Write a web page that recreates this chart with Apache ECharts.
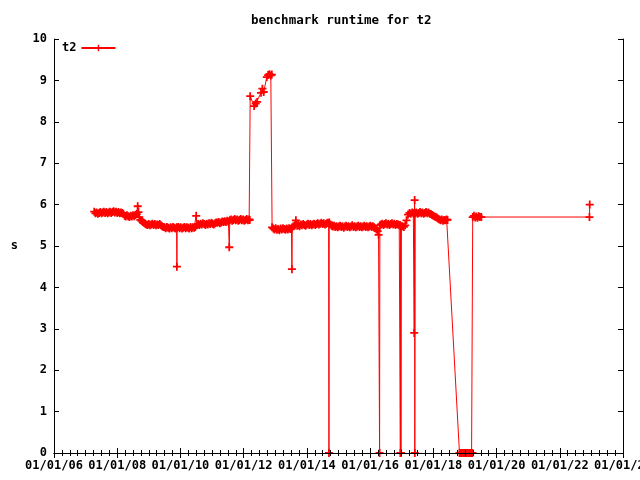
<!DOCTYPE html>
<html>
<head>
<meta charset="utf-8">
<script src="https://cdn.jsdelivr.net/npm/echarts@6/dist/echarts.min.js"></script>
<style>html,body{margin:0;padding:0;background:#fff}#c{width:640px;height:480px}</style>
</head>
<body>
<div id="c"></div>
<script>
// ---- data ----
const seriesName = 't2';
const chartTitle = 'benchmark runtime for t2';
const yName = 's';
const xStart = '2006-01-01';
const xTickCount = 9;          // 01/01/06 ... 01/01/24, every 2 years
const yMin = 0, yMax = 10, yStep = 1;

const runDates = [
  '2007-04-11','2007-04-25','2007-05-09','2007-05-23','2007-06-06','2007-06-20','2007-07-04','2007-07-18','2007-08-01','2007-08-15','2007-08-29','2007-09-12','2007-09-26','2007-10-10','2007-10-24','2007-11-07','2007-11-21','2007-12-05','2007-12-19','2008-01-02','2008-01-16','2008-01-30','2008-02-13','2008-02-27','2008-03-12',
  '2008-03-26','2008-04-09','2008-04-23','2008-05-07','2008-05-21','2008-06-04','2008-06-18','2008-07-02','2008-07-16','2008-07-30','2008-08-13',
  '2008-08-25',
  '2008-09-03','2008-09-12','2008-09-24','2008-10-08','2008-10-22','2008-11-05','2008-11-19','2008-12-03',
  '2008-12-17','2008-12-31','2009-01-14','2009-01-28','2009-02-11','2009-02-25','2009-03-11','2009-03-25','2009-04-08','2009-04-22','2009-05-06','2009-05-20','2009-06-03','2009-06-17',
  '2009-07-01','2009-07-15','2009-07-29','2009-08-12','2009-08-26','2009-09-09','2009-09-23','2009-10-07','2009-10-21','2009-11-04','2009-11-18','2009-11-21','2009-11-24','2009-12-08','2009-12-22','2010-01-05','2010-01-19','2010-02-02','2010-02-16','2010-03-02','2010-03-16','2010-03-30','2010-04-13','2010-04-27','2010-05-11','2010-05-25','2010-06-08','2010-06-22','2010-07-02',
  '2010-07-10','2010-07-24','2010-08-07','2010-08-21','2010-09-04','2010-09-18','2010-10-02','2010-10-16','2010-10-30','2010-11-13','2010-11-27','2010-12-11','2010-12-25','2011-01-08','2011-01-22','2011-02-05','2011-02-19','2011-03-05','2011-03-19','2011-04-02','2011-04-16','2011-04-30','2011-05-14','2011-05-28','2011-06-11','2011-06-25','2011-07-09','2011-07-19',
  '2011-07-25','2011-08-08','2011-08-22','2011-09-05','2011-09-19','2011-10-03','2011-10-17','2011-10-31','2011-11-14','2011-11-28','2011-12-12','2011-12-26','2012-01-09','2012-01-23','2012-02-06','2012-02-20','2012-03-05','2012-03-12',
  '2012-03-17','2012-05-01','2012-05-20','2012-06-05','2012-07-20','2012-08-05','2012-08-20','2012-09-25','2012-10-10','2012-10-25','2012-11-10','2012-11-22',
  '2012-11-25','2012-12-09','2012-12-23','2013-01-06','2013-01-20','2013-02-03','2013-02-17','2013-03-03','2013-03-17','2013-03-31','2013-04-14','2013-04-28','2013-05-12','2013-05-26','2013-06-09','2013-06-23','2013-07-07','2013-07-12',
  '2013-07-16','2013-07-30','2013-08-13','2013-08-27','2013-09-10','2013-09-24','2013-10-08','2013-10-22','2013-11-05','2013-11-19','2013-12-03','2013-12-17','2013-12-31','2014-01-14','2014-01-28','2014-02-11','2014-02-25','2014-03-11','2014-03-25','2014-04-08','2014-04-22','2014-05-06','2014-05-20','2014-06-03','2014-06-17','2014-07-01','2014-07-15','2014-07-29','2014-08-12','2014-08-26','2014-09-09','2014-09-13',
  '2014-09-16','2014-09-30','2014-10-14','2014-10-28','2014-11-11','2014-11-25','2014-12-09','2014-12-23','2015-01-06','2015-01-20','2015-02-03','2015-02-17','2015-03-03','2015-03-17','2015-03-31','2015-04-14','2015-04-28','2015-05-12','2015-05-26','2015-06-09','2015-06-23','2015-07-07','2015-07-21','2015-08-04','2015-08-18','2015-09-01','2015-09-15','2015-09-29','2015-10-13','2015-10-27','2015-11-10','2015-11-24','2015-12-08','2015-12-22','2016-01-05','2016-01-19','2016-02-02','2016-02-16','2016-03-01','2016-03-15','2016-03-29','2016-04-08','2016-04-20',
  '2016-04-23','2016-05-07','2016-05-21','2016-06-04','2016-06-18','2016-07-02','2016-07-16','2016-07-30','2016-08-13','2016-08-27','2016-09-10','2016-09-24','2016-10-08','2016-10-22','2016-11-05','2016-11-19','2016-12-03','2016-12-12','2016-12-16','2016-12-19','2016-12-23','2016-12-28',
  '2017-01-10','2017-01-25','2017-02-10','2017-02-25','2017-03-15','2017-04-01','2017-04-15','2017-05-01','2017-05-15','2017-05-25','2017-05-28','2017-05-30','2017-06-01',
  '2017-06-05','2017-06-19','2017-07-03','2017-07-17','2017-07-31','2017-08-14','2017-08-28','2017-09-11','2017-09-25','2017-10-09','2017-10-23','2017-11-06','2017-11-20','2017-12-04','2017-12-18','2018-01-01','2018-01-15','2018-01-29','2018-02-12','2018-02-26','2018-03-12','2018-03-26','2018-04-09','2018-04-23','2018-05-07','2018-05-21','2018-06-04','2018-06-14',
  '2018-10-30','2018-11-13','2018-11-27','2018-12-11','2018-12-25','2019-01-08','2019-01-22','2019-02-05','2019-02-19','2019-03-05','2019-03-19','2019-03-29',
  '2019-04-01','2019-04-15','2019-04-29','2019-05-13','2019-05-27','2019-06-10','2019-06-24','2019-07-10',
  '2022-12-10','2022-12-13'
];
const runtimes = [
  5.83,5.79,5.81,5.78,5.80,5.82,5.79,5.81,5.83,5.80,5.82,5.79,5.81,5.83,5.80,5.82,5.84,5.81,5.83,5.80,5.82,5.79,5.81,5.80,5.78,
  5.73,5.71,5.74,5.72,5.70,5.73,5.71,5.74,5.72,5.75,5.77,
  5.96,
  5.82,5.70,5.63,5.61,5.58,5.56,5.54,5.52,
  5.51,5.53,5.50,5.52,5.54,5.51,5.53,5.50,5.52,5.51,5.53,5.50,5.48,5.46,
  5.45,5.43,5.46,5.44,5.42,5.45,5.43,5.46,5.44,5.42,5.45,4.50,5.44,5.46,5.43,5.45,5.42,5.44,5.46,5.43,5.45,5.44,5.42,5.46,5.43,5.45,5.44,5.46,5.73,
  5.50,5.53,5.51,5.54,5.52,5.55,5.53,5.51,5.54,5.52,5.55,5.53,5.56,5.54,5.52,5.55,5.57,5.56,5.58,5.55,5.57,5.59,5.58,5.60,5.58,5.61,5.59,4.97,
  5.62,5.64,5.61,5.63,5.65,5.62,5.64,5.61,5.63,5.65,5.62,5.64,5.61,5.63,5.65,5.62,5.64,5.63,
  8.62,8.38,8.44,8.48,8.70,8.80,8.72,9.08,9.13,9.15,9.12,9.14,
  5.45,5.42,5.40,5.43,5.39,5.41,5.38,5.42,5.40,5.43,5.41,5.39,5.42,5.40,5.43,5.41,5.42,4.44,
  5.45,5.48,5.50,5.62,5.49,5.51,5.48,5.52,5.50,5.53,5.51,5.49,5.52,5.54,5.51,5.53,5.50,5.52,5.54,5.51,5.53,5.55,5.52,5.54,5.56,5.53,5.55,5.52,5.54,5.56,5.55,0,
  5.57,5.52,5.49,5.47,5.49,5.46,5.48,5.45,5.47,5.49,5.46,5.48,5.44,5.47,5.49,5.46,5.48,5.45,5.47,5.50,5.46,5.48,5.45,5.47,5.49,5.46,5.48,5.45,5.47,5.49,5.46,5.48,5.45,5.47,5.49,5.46,5.48,5.45,5.43,5.40,5.36,5.27,0,
  5.50,5.52,5.54,5.51,5.53,5.55,5.52,5.54,5.51,5.53,5.55,5.52,5.54,5.51,5.53,5.52,5.50,5.51,0,5.48,0,5.47,
  5.48,5.46,5.50,5.62,5.76,5.80,5.78,5.81,5.79,2.90,5.80,6.11,0,
  5.79,5.81,5.78,5.80,5.82,5.79,5.81,5.78,5.80,5.82,5.79,5.81,5.78,5.77,5.75,5.73,5.71,5.70,5.68,5.66,5.64,5.62,5.64,5.61,5.63,5.62,5.64,5.63,
  0,0,0,0,0,0,0,0,0,0,0,0,
  5.70,5.73,5.69,5.71,5.68,5.72,5.70,5.70,
  5.70,6.00
];

// ---- chart ----
const FONT = 'DejaVu Sans Mono';
const xMin = Date.parse(xStart);
const xInterval = 730.5 * 86400000;     // two (average) years
const xMax = xMin + xTickCount * xInterval;
const pad = n => (n < 10 ? '0' : '') + n;
const fmtDate = v => {
  const d = new Date(v + 43200000 - ((v - xMin) % 86400000));
  return pad(d.getUTCMonth() + 1) + '/' + pad(d.getUTCDate()) + '/' + pad(d.getUTCFullYear() % 100);
};
const seriesData = runDates.map((d, i) => [Date.parse(d), runtimes[i]]);
const plus = 'path://M3.5,0L5.5,0L5.5,3.5L9,3.5L9,5.5L5.5,5.5L5.5,9L3.5,9L3.5,5.5L0,5.5L0,3.5L3.5,3.5Z';
const txt = {fontFamily: FONT, fontSize: 12, fontWeight: 'bold', color: '#000'};
const black = {color: '#000', width: 1};

function xAx(pos, labels) {
  return {
    type: 'value', position: pos, min: xMin, max: xMax, interval: xInterval,
    z: 10,
    axisLine: {show: true, lineStyle: black},
    axisTick: {show: true, inside: true, length: 5, lineStyle: black},
    minorTick: {show: true, splitNumber: 8, length: 3, lineStyle: black},
    axisLabel: labels ? Object.assign({show: true, margin: 7, formatter: fmtDate, showMinLabel: true, showMaxLabel: true, hideOverlap: false}, txt) : {show: false},
    splitLine: {show: false}, minorSplitLine: {show: false}
  };
}
function yAx(pos, labels) {
  return {
    type: 'value', position: pos, min: yMin, max: yMax, interval: yStep,
    z: 10,
    name: labels ? yName : '', nameLocation: 'middle', nameRotate: 0, nameGap: 36,
    nameTextStyle: txt,
    axisLine: {show: true, lineStyle: black},
    axisTick: {show: true, inside: true, length: 5, lineStyle: black},
    axisLabel: labels ? Object.assign({show: true, margin: 7}, txt) : {show: false},
    splitLine: {show: false}
  };
}

const chart = echarts.init(document.getElementById('c'), null, {renderer: 'canvas'});
chart.setOption({
  animation: false,
  backgroundColor: '#fff',
  title: {text: chartTitle, left: 246, top: 9, textStyle: Object.assign({}, txt, {fontSize: 12.5})},
  legend: {
    data: [seriesName], left: 57, top: 37, align: 'right',
    itemWidth: 34, itemHeight: 8, itemGap: 5,
    textStyle: txt
  },
  grid: {left: 54, right: 17, top: 39, bottom: 27, containLabel: false, outerBoundsMode: 'none'},
  xAxis: [xAx('bottom', true), xAx('top', false)],
  yAxis: [yAx('left', true), yAx('right', false)],
  series: [{
    name: seriesName, type: 'line', xAxisIndex: 0, yAxisIndex: 0,
    data: seriesData,
    symbol: plus, symbolSize: 8, showSymbol: true, showAllSymbol: true,
    lineStyle: {color: '#ff0000', width: 1},
    itemStyle: {color: '#ff0000', borderWidth: 0},
    emphasis: {disabled: true},
    clip: true
  }]
});
</script>
</body>
</html>
